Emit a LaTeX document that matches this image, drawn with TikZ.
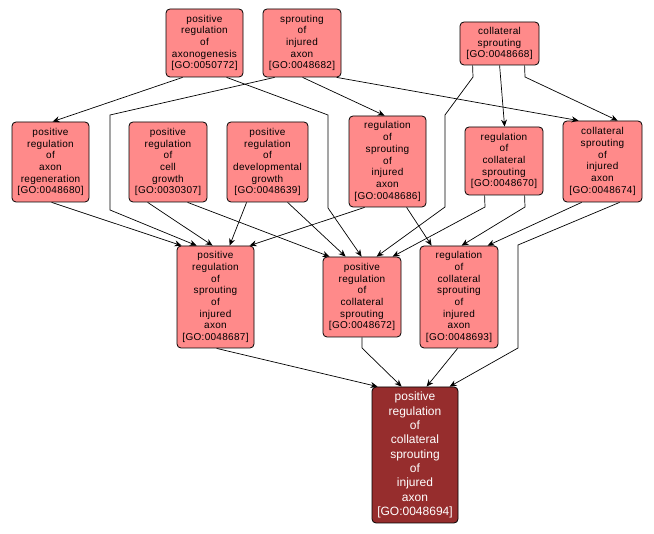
\documentclass[tikz,border=0pt]{standalone}
\usepackage{fontspec}
\setmainfont{Liberation Sans}
\usetikzlibrary{calc,arrows.meta}
\definecolor{lightnode}{RGB}{255,138,138}
\definecolor{darknode}{RGB}{150,45,45}
\tikzset{
  gonode/.style={draw=black, line width=0.8pt, rounded corners=4pt, fill=lightnode, align=center, inner sep=0pt, text=black,
    font=\addfontfeature{LetterSpace=3}\fontsize{10}{11.7}\selectfont},
  gomain/.style={draw=black, line width=0.8pt, rounded corners=4pt, fill=darknode, align=center, inner sep=0pt, text=white,
    font=\fontsize{12}{14.3}\selectfont},
  goedge/.style={draw=black, line width=0.7pt, -{Stealth[length=7pt,width=6pt]}}
}
\begin{document}
\begin{tikzpicture}[x=1pt,y=-1pt]
\useasboundingbox[fill=white] (0,0) rectangle (654,534);
% top row
\node[gonode, minimum width=77pt, minimum height=68pt] (A) at (204.5,43) {positive\\regulation\\of\\axonogenesis\\{[}GO:0050772{]}};
\node[gonode, minimum width=78pt, minimum height=68pt] (B) at (302,43) {sprouting\\of\\injured\\axon\\{[}GO:0048682{]}};
\node[gonode, minimum width=79pt, minimum height=43pt] (C) at (499.5,43.5) {collateral\\sprouting\\{[}GO:0048668{]}};
% second row
\node[gonode, minimum width=77pt, minimum height=80pt] (D) at (50.5,162) {positive\\regulation\\of\\axon\\regeneration\\{[}GO:0048680{]}};
\node[gonode, minimum width=78pt, minimum height=80pt] (E) at (168,162) {positive\\regulation\\of\\cell\\growth\\{[}GO:0030307{]}};
\node[gonode, minimum width=81pt, minimum height=80pt] (F) at (267.5,162) {positive\\regulation\\of\\developmental\\growth\\{[}GO:0048639{]}};
\node[gonode, minimum width=77pt, minimum height=91pt] (G) at (387.5,161.5) {regulation\\of\\sprouting\\of\\injured\\axon\\{[}GO:0048686{]}};
\node[gonode, minimum width=78pt, minimum height=68pt] (H) at (504,161) {regulation\\of\\collateral\\sprouting\\{[}GO:0048670{]}};
\node[gonode, minimum width=79pt, minimum height=81pt] (I) at (602.5,161.5) {collateral\\sprouting\\of\\injured\\axon\\{[}GO:0048674{]}};
% third row
\node[gonode, minimum width=77pt, minimum height=102pt] (J) at (215.5,297) {positive\\regulation\\of\\sprouting\\of\\injured\\axon\\{[}GO:0048687{]}};
\node[gonode, minimum width=78pt, minimum height=80pt] (K) at (362,297) {positive\\regulation\\of\\collateral\\sprouting\\{[}GO:0048672{]}};
\node[gonode, minimum width=78pt, minimum height=102pt] (L) at (459,297) {regulation\\of\\collateral\\sprouting\\of\\injured\\axon\\{[}GO:0048693{]}};
% bottom
\node[gomain, minimum width=86pt, minimum height=136pt] (M) at (415,455) {positive\\regulation\\of\\collateral\\sprouting\\of\\injured\\axon\\{[}GO:0048694{]}};
% edges
\draw[goedge] ($(A.south west)+(17,0)$) -- ($(D.north west)+(41,0)$);
\draw[goedge] ($(A.south west)+(61,0)$) -- (328,115) -- (328,208) -- ($(K.north west)+(39,0)$);
\draw[goedge] ($(B.south west)+(12,0)$) -- (110,115) -- (110,210) -- ($(J.north west)+(20,0)$);
\draw[goedge] ($(B.south west)+(40,0)$) -- ($(G.north west)+(36,0)$);
\draw[goedge] ($(B.south west)+(74,0)$) -- ($(I.north west)+(16,0)$);
\draw[goedge] ($(C.south west)+(13,0)$) -- (473,77) -- (445,115) -- (445,207) -- ($(K.north west)+(54,0)$);
\draw[goedge] ($(C.south west)+(40,0)$) -- ($(H.north west)+(40,0)$);
\draw[goedge] ($(C.south west)+(65,0)$) -- (525,77) -- ($(I.north west)+(55,0)$);
\draw[goedge] ($(D.south west)+(40,0)$) -- ($(J.north west)+(5,0)$);
\draw[goedge] ($(E.south west)+(19,0)$) -- ($(J.north west)+(36,0)$);
\draw[goedge] ($(E.south west)+(59,0)$) -- ($(K.north west)+(7,0)$);
\draw[goedge] ($(F.south west)+(20,0)$) -- ($(J.north west)+(53,0)$);
\draw[goedge] ($(F.south west)+(61,0)$) -- ($(K.north west)+(23,0)$);
\draw[goedge] ($(G.south west)+(16,0)$) -- ($(J.north west)+(73,0)$);
\draw[goedge] ($(G.south west)+(58,0)$) -- ($(L.north west)+(12,0)$);
\draw[goedge] ($(H.south west)+(20,0)$) -- (485,207) -- ($(K.north west)+(70,0)$);
\draw[goedge] ($(H.south west)+(60,0)$) -- (525,207) -- ($(L.north west)+(42,0)$);
\draw[goedge] ($(I.south west)+(19,0)$) -- ($(L.north west)+(68,0)$);
\draw[goedge] ($(I.south west)+(57,0)$) -- (518,245) -- (518,348) -- ($(M.north west)+(78,0)$);
\draw[goedge] ($(J.south west)+(40,0)$) -- ($(M.north west)+(6,0)$);
\draw[goedge] (K.south) -- (362,348) -- ($(M.north west)+(30,0)$);
\draw[goedge] ($(L.south west)+(38,0)$) -- ($(M.north west)+(55,0)$);
\end{tikzpicture}
\end{document}
